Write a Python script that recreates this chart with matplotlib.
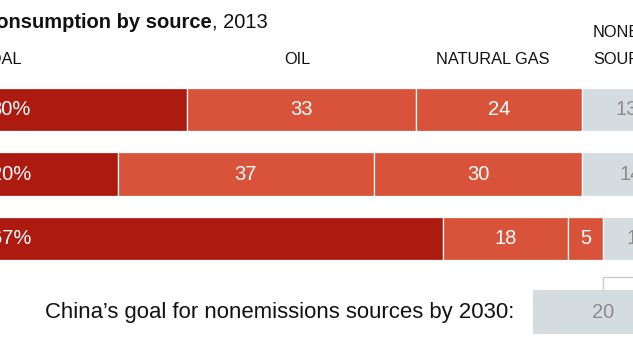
import numpy as np
import matplotlib.pyplot as plt

plt.rcParams['font.family'] = ['Liberation Sans', 'DejaVu Sans']

# Energy consumption shares, 2013 (percent)
regions = ['World', 'United States', 'China']
coal = [30, 20, 67]
oil = [33, 37, 18]
gas = [24, 30, 5]
nonemission = [13, 14, 10]
china_goal = 20

coal_col = '#ad1a10'
fossil_col = '#d9533a'
grey_col = '#d5dce0'
grey_txt = '#8c8c8c'

fig = plt.figure(figsize=(6.33, 3.5), dpi=100)
ax = fig.add_axes([0, 0, 1, 1])

y = np.arange(len(regions))
h = 0.68
segs = [(coal, coal_col), (oil, fossil_col), (gas, fossil_col), (nonemission, grey_col)]
left = np.zeros(len(regions))
for k, (vals, col) in enumerate(segs):
    vals = np.array(vals, dtype=float)
    ax.barh(y, vals, left=left, height=h, color=col, edgecolor='white', linewidth=0.9)
    for i in range(len(regions)):
        if k == 0:
            # the chart is cropped on the left, so only part of this label shows
            ax.text(7.5, y[i], f'{int(vals[i])}%', color='white', fontsize=14.5,
                    ha='right', va='center')
        else:
            c = grey_txt if k == 3 else 'white'
            ax.text(left[i] + vals[i] / 2, y[i], f'{int(vals[i])}', color=c,
                    fontsize=14.5, ha='center', va='center')
    left += vals

# goal box for China
china_now = coal[2] + oil[2] + gas[2]
goal_y = 3.14
ax.barh(goal_y, china_goal, left=100 - china_goal, height=h, color=grey_col, edgecolor='none')
ax.text(100 - china_goal / 2, goal_y, f'{china_goal}', color=grey_txt, fontsize=14.5,
        ha='center', va='center')
ax.plot([china_now, china_now, 100], [goal_y - h / 2, 2.6, 2.6], color='#cccccc', lw=1)
ax.text(77.2, goal_y, 'China\u2019s goal for nonemissions sources by 2030:', fontsize=15.9,
        ha='right', va='center', color='#111111')

# column headers
hy = -0.77
ax.text(6.1, hy, 'COAL', fontsize=11.8, ha='right', va='center', color='#111111')
ax.text(45.9, hy, 'OIL', fontsize=11.8, ha='center', va='center', color='#111111')
ax.text(74.2, hy, 'NATURAL GAS', fontsize=11.8, ha='center', va='center', color='#111111')
ax.text(88.6, hy - 0.43, 'NONEMISSION', fontsize=11.8, ha='left', va='center', color='#111111')
ax.text(88.6, hy, 'SOURCES', fontsize=11.8, ha='left', va='center', color='#111111')

# title
ax.text(33.6, -1.27, 'Energy consumption by source', fontsize=14.5, fontweight='bold',
        ha='right', va='baseline', color='#111111')
ax.text(33.6, -1.27, ', 2013', fontsize=14.5, ha='left', va='baseline', color='#111111')

ax.set_xlim(21 / 6.93, 654 / 6.93)
ax.set_ylim(3.729, -1.698)
ax.axis('off')

plt.savefig('out.png', dpi=100, facecolor='white')
